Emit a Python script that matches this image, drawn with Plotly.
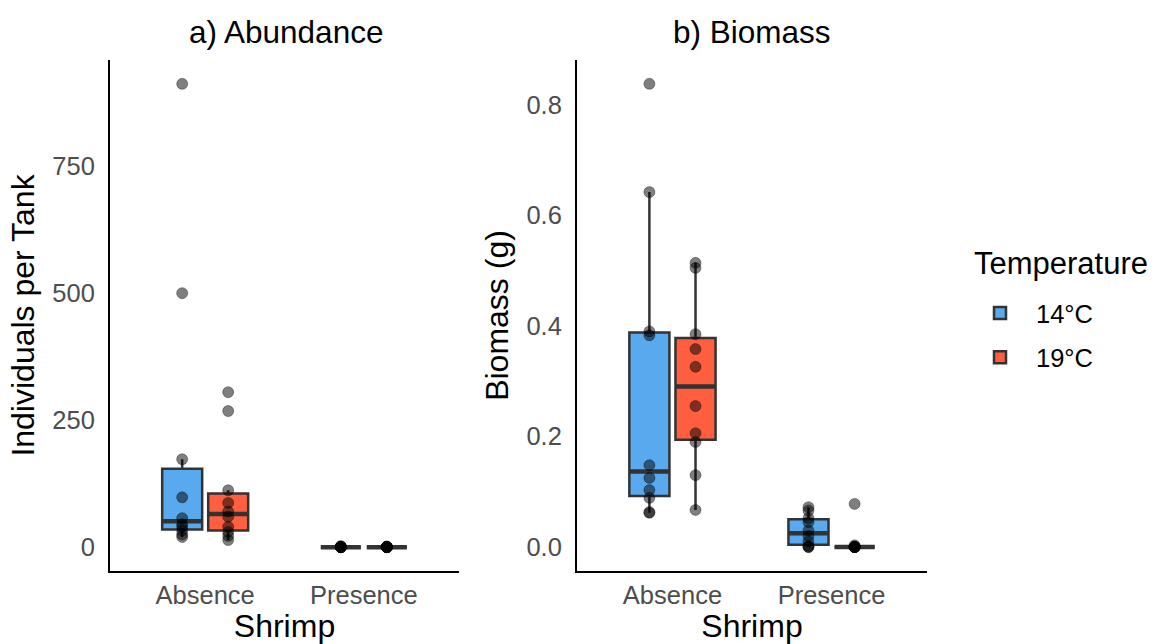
import numpy as np
import plotly.graph_objects as go

# ---- data ----
shrimp = ["Absence", "Presence"]
temps = ["14°C", "19°C"]
temp_colors = ["#58A9EE", "#FF5E3F"]

abund_14_absence = [912, 500, 173, 98, 57, 45, 40, 33, 25, 20]
abund_19_absence = [305, 268, 112, 87, 70, 60, 40, 30, 22, 14]
abund_14_presence = [0, 0, 0, 0, 0, 0, 0, 0, 1, 2]
abund_19_presence = [0, 0, 0, 0, 0, 0, 0, 0, 1, 1]

bio_14_absence = [0.838, 0.642, 0.390, 0.383, 0.148, 0.125, 0.103, 0.089, 0.063, 0.062]
bio_19_absence = [0.514, 0.505, 0.385, 0.358, 0.326, 0.255, 0.206, 0.190, 0.130, 0.067]
bio_14_presence = [0.072, 0.066, 0.052, 0.045, 0.030, 0.020, 0.010, 0.002, 0.0, 0.0]
bio_19_presence = [0.078, 0.003, 0.0, 0.0, 0.0, 0.0, 0.0, 0.0, 0.0, 0.0]

abund = {("14°C", "Absence"): abund_14_absence, ("19°C", "Absence"): abund_19_absence,
         ("14°C", "Presence"): abund_14_presence, ("19°C", "Presence"): abund_19_presence}
bio = {("14°C", "Absence"): bio_14_absence, ("19°C", "Absence"): bio_19_absence,
       ("14°C", "Presence"): bio_14_presence, ("19°C", "Presence"): bio_19_presence}

yticks_abund = [0, 250, 500, 750]
yticks_bio = [0.0, 0.2, 0.4, 0.6, 0.8]
ytext_bio = ["0.0", "0.2", "0.4", "0.6", "0.8"]

# ---- style ----
DODGE = 0.145
BOXW = 0.252
LINE = "#333333"
FONT = "Liberation Sans, Arial, sans-serif"
TICK_SIZE = 25.5
TITLE_SIZE = 32
HEAD_SIZE = 31.5


def stats(vals):
    v = np.sort(np.asarray(vals, dtype=float))
    q1, med, q3 = np.percentile(v, [25, 50, 75])
    iqr = q3 - q1
    lo = v[v >= q1 - 1.5 * iqr].min()
    hi = v[v <= q3 + 1.5 * iqr].max()
    return q1, med, q3, lo, hi


fig = go.Figure()

panels = [(abund, "x", "y"), (bio, "x2", "y2")]
for pi, (data, xa, ya) in enumerate(panels):
    for ti, t in enumerate(temps):
        off = -DODGE if ti == 0 else DODGE
        for si, s in enumerate(shrimp):
            xc = si + 1 + off
            q1, med, q3, lo, hi = stats(data[(t, s)])
            fig.add_trace(go.Box(
                x=[xc], q1=[q1], median=[med], q3=[q3], lowerfence=[lo], upperfence=[hi],
                width=BOXW, whiskerwidth=0, fillcolor=temp_colors[ti],
                line=dict(color=LINE, width=2.5), boxpoints=False,
                name=t, legendgroup=t, showlegend=(pi == 0 and si == 0),
                xaxis=xa, yaxis=ya, hoverinfo="skip"))
            # thicker median line (ggplot fatten)
            fig.add_trace(go.Scatter(
                x=[xc - BOXW / 2, xc + BOXW / 2], y=[med, med], mode="lines",
                line=dict(color=LINE, width=4.5), showlegend=False,
                xaxis=xa, yaxis=ya, hoverinfo="skip"))
    for ti, t in enumerate(temps):
        off = -DODGE if ti == 0 else DODGE
        for si, s in enumerate(shrimp):
            vals = data[(t, s)]
            fig.add_trace(go.Scatter(
                x=[si + 1 + off] * len(vals), y=vals, mode="markers",
                marker=dict(size=11, color="rgba(0,0,0,0.5)",
                            line=dict(width=1, color="rgba(0,0,0,0.35)")),
                showlegend=False, xaxis=xa, yaxis=ya, hoverinfo="skip"))

xcommon = dict(range=[0.4, 2.6], tickvals=[1, 2], ticktext=shrimp, showline=True,
               linecolor="black", linewidth=2, ticks="", showgrid=False, zeroline=False,
               tickfont=dict(size=TICK_SIZE, color="#4D4D4D", family=FONT),
               ticklabelstandoff=0,
               title=dict(text="Shrimp", font=dict(size=TITLE_SIZE, color="black", family=FONT), standoff=4))
ycommon = dict(showline=True, linecolor="black", linewidth=2, ticks="", showgrid=False,
               zeroline=False, tickfont=dict(size=TICK_SIZE, color="#4D4D4D", family=FONT),
               ticklabelstandoff=8)

fig.update_layout(
    width=1153, height=644, autosize=False,
    margin=dict(l=0, r=0, t=0, b=0),
    paper_bgcolor="white", plot_bgcolor="white",
    boxmode="overlay",
    font=dict(family=FONT, color="black"),
    xaxis=dict(domain=[110 / 1153, 459 / 1153], anchor="y", **xcommon),
    xaxis2=dict(domain=[577 / 1153, 927 / 1153], anchor="y2", **xcommon),
    yaxis=dict(domain=[73 / 644, 584 / 644], anchor="x", range=[-47, 959],
               tickvals=yticks_abund, ticktext=[str(v) for v in yticks_abund],
               title=dict(text="Individuals per Tank", font=dict(size=TITLE_SIZE, family=FONT), standoff=8),
               **ycommon),
    yaxis2=dict(domain=[73 / 644, 584 / 644], anchor="x2", range=[-0.0434, 0.881],
                tickvals=yticks_bio, ticktext=ytext_bio,
                title=dict(text="Biomass (g)", font=dict(size=TITLE_SIZE, family=FONT), standoff=8),
                **ycommon),
    legend=dict(x=964 / 1153, xanchor="left", y=1 - 290 / 644, yanchor="top",
                font=dict(size=TICK_SIZE, family=FONT), tracegroupgap=8,
                itemwidth=62, bgcolor="rgba(0,0,0,0)"),
    annotations=[
        dict(text="a) Abundance", x=286 / 1153, y=1 - 32 / 644, xref="paper", yref="paper",
             showarrow=False, font=dict(size=HEAD_SIZE, family=FONT, color="black"),
             xanchor="center", yanchor="middle"),
        dict(text="b) Biomass", x=752 / 1153, y=1 - 32 / 644, xref="paper", yref="paper",
             showarrow=False, font=dict(size=HEAD_SIZE, family=FONT, color="black"),
             xanchor="center", yanchor="middle"),
        dict(text="Temperature", x=972 / 1153, y=1 - 263 / 644, xref="paper", yref="paper",
             showarrow=False, font=dict(size=TITLE_SIZE - 1, family=FONT, color="black"),
             xanchor="left", yanchor="middle"),
    ],
)

fig.write_html("out.html")
